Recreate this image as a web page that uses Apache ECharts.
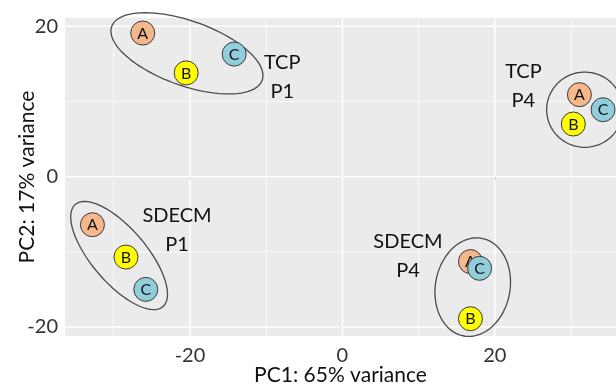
<!DOCTYPE html>
<html>
<head>
<meta charset="utf-8">
<script src="https://cdn.jsdelivr.net/npm/echarts@6/dist/echarts.min.js"></script>
<style>html,body{margin:0;padding:0;background:#fff;}#c{width:616px;height:387px;}</style>
</head>
<body>
<div id="c"></div>
<script>
// ---- data ----
const groups = ['TCP P1', 'TCP P4', 'SDECM P1', 'SDECM P4'];
const pc1A = [-26.2, 31.1, -32.8, 16.8];
const pc2A = [19.1, 10.9, -6.4, -11.3];
const pc1B = [-20.5, 30.3, -28.4, 16.8];
const pc2B = [13.8, 7.0, -10.7, -18.9];
const pc1C = [-14.2, 34.2, -25.8, 18.0];
const pc2C = [16.3, 8.9, -15.0, -12.2];

// group ellipses (data units): centre, semi-axes, rotation (deg)
const ellCx = [-20.4, 31.8, -29.3, 17.1];
const ellCy = [16.4, 8.9, -10.5, -14.7];
const ellA = [10.5, 5.0, 8.9, 6.6];
const ellB = [4.3, 5.0, 3.6, 4.9];
const ellAng = [-20, 0, -50, 80];

// group text annotations
const labelText = ['TCP\nP1', 'TCP\nP4', 'SDECM\nP1', 'SDECM\nP4'];
const labelX = [-7.9, 23.75, -21.7, 8.6];
const labelY = [13.2, 12.05, -7.1, -10.6];

const xMajor = [-20, 0, 20];
const xMinor = [-30, -10, 10, 30];
const yMajor = [-20, 0, 20];
const yMinor = [-10, 10];

const FONT = 'Lato';
const X_MIN = -36.4, X_MAX = 35.9, Y_MIN = -21.2, Y_MAX = 21.1;

const chart = echarts.init(document.getElementById('c'), null, {renderer: 'canvas'});

function pointSeries(name, xs, ys, color, z) {
  return {
    name: name, type: 'custom', z: z, silent: true,
    data: xs.map((x, i) => [x, ys[i]]),
    renderItem: function (params, api) {
      const p = api.coord([api.value(0), api.value(1)]);
      return {
        type: 'group',
        children: [
          {type: 'circle', shape: {cx: p[0], cy: p[1], r: 12},
           style: {fill: color, stroke: '#3a3a3a', lineWidth: 1}},
          {type: 'text', x: p[0], y: p[1] + 0.5,
           style: {text: name, fill: '#111', font: '16px ' + FONT, align: 'center', verticalAlign: 'middle'}}
        ]
      };
    }
  };
}

// gridlines: [axis (0=x,1=y), value, width]
const gridData = [
  ...xMinor.map(v => [0, v, 0.7]),
  ...yMinor.map(v => [1, v, 0.7]),
  ...xMajor.map(v => [0, v, 1.4]),
  ...yMajor.map(v => [1, v, 1.4])
];

const option = {
  animation: false,
  grid: {left: 65, top: 18, right: 0, bottom: 51, show: true, backgroundColor: '#EBEBEB', borderWidth: 0,
         containLabel: false, outerBoundsMode: 'none'},
  xAxis: {
    type: 'value', min: X_MIN, max: X_MAX,
    axisLine: {show: false},
    splitLine: {show: false},
    axisTick: {show: true, length: 3, lineStyle: {color: '#777'}, customValues: xMajor},
    axisLabel: {customValues: xMajor, color: '#333', fontFamily: FONT, fontSize: 20, margin: 10},
    name: 'PC1: 65% variance', nameLocation: 'middle', nameGap: 29, nameMoveOverlap: false,
    nameTextStyle: {color: '#111', fontFamily: FONT, fontSize: 21}
  },
  yAxis: {
    type: 'value', min: Y_MIN, max: Y_MAX,
    axisLine: {show: false},
    splitLine: {show: false},
    axisTick: {show: true, length: 3, lineStyle: {color: '#777'}, customValues: yMajor},
    axisLabel: {customValues: yMajor, color: '#333', fontFamily: FONT, fontSize: 20, margin: 7},
    name: 'PC2: 17% variance', nameLocation: 'middle', nameGap: 27, nameMoveOverlap: false,
    nameTextStyle: {color: '#111', fontFamily: FONT, fontSize: 21}
  },
  series: [
    {
      type: 'custom', z: 1, silent: true,
      data: gridData,
      renderItem: function (params, api) {
        const axis = api.value(0), v = api.value(1), w = api.value(2);
        let p1, p2;
        if (axis === 0) { p1 = api.coord([v, Y_MIN]); p2 = api.coord([v, Y_MAX]); }
        else { p1 = api.coord([X_MIN, v]); p2 = api.coord([X_MAX, v]); }
        return {type: 'line', shape: {x1: p1[0], y1: p1[1], x2: p2[0], y2: p2[1]},
                style: {stroke: '#fff', lineWidth: w}};
      }
    },
    {
      type: 'custom', z: 3, silent: true,
      data: groups.map((g, i) => [ellCx[i], ellCy[i], ellA[i], ellB[i], ellAng[i]]),
      renderItem: function (params, api) {
        const cx = api.value(0), cy = api.value(1), a = api.value(2), b = api.value(3);
        const ang = api.value(4) * Math.PI / 180;
        const p = [];
        for (let i = 0; i <= 90; i++) {
          const t = 2 * Math.PI * i / 90;
          const x = cx + a * Math.cos(t) * Math.cos(ang) - b * Math.sin(t) * Math.sin(ang);
          const y = cy + a * Math.cos(t) * Math.sin(ang) + b * Math.sin(t) * Math.cos(ang);
          p.push(api.coord([x, y]));
        }
        return {type: 'polygon', shape: {points: p}, style: {fill: 'none', stroke: '#4a4a4a', lineWidth: 1.3}};
      }
    },
    {
      type: 'custom', z: 4, silent: true,
      data: labelText.map((t, i) => [labelX[i], labelY[i]]),
      renderItem: function (params, api) {
        const p = api.coord([api.value(0), api.value(1)]);
        return {type: 'text', x: p[0], y: p[1],
          style: {text: labelText[params.dataIndex], fill: '#111', font: '20px ' + FONT,
                  lineHeight: 29, align: 'center', verticalAlign: 'middle'}};
      }
    },
    pointSeries('A', pc1A, pc2A, '#F5B78C', 5),
    pointSeries('B', pc1B, pc2B, '#FFFF00', 6),
    pointSeries('C', pc1C, pc2C, '#92CDDC', 7)
  ]
};
chart.setOption(option);
</script>
</body>
</html>
